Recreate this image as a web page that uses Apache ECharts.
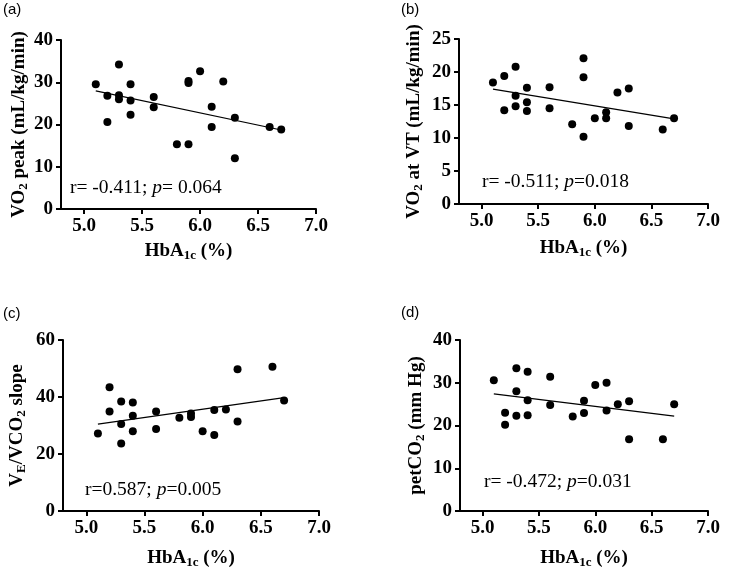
<!DOCTYPE html>
<html>
<head>
<meta charset="utf-8">
<script src="https://cdn.jsdelivr.net/npm/echarts@6/dist/echarts.min.js"></script>
<style>html,body{margin:0;padding:0;background:#fff}#c{width:730px;height:571px}</style>
</head>
<body>
<div id="c"></div>
<script>
// Shared x tick labels (HbA1c %)
const xTicks = [5.0, 5.5, 6.0, 6.5, 7.0];

// Panel (a): VO2 peak
const aX = [5.1,5.2,5.2,5.3,5.3,5.3,5.4,5.4,5.4,5.6,5.6,5.8,5.9,5.9,5.9,6.0,6.1,6.1,6.2,6.3,6.3,6.6,6.7];
const aY = [29.5,26.8,20.6,34.2,26.9,26.0,29.5,25.7,22.3,26.5,24.1,15.3,30.3,29.8,15.3,32.6,24.2,19.4,30.2,21.6,12.0,19.4,18.8];
const aFitX = [5.1, 6.7];
const aFitY = [27.95, 18.7];
const aTicks = [0, 10, 20, 30, 40];

// Panel (b): VO2 at VT
const bX = [5.1,5.2,5.2,5.3,5.3,5.3,5.4,5.4,5.4,5.6,5.6,5.8,5.9,5.9,5.9,6.0,6.1,6.1,6.2,6.3,6.3,6.6,6.7];
const bY = [18.4,19.4,14.2,20.8,16.4,14.8,17.6,15.4,14.1,17.7,14.5,12.1,22.1,19.2,10.2,13.0,13.9,13.0,16.9,17.5,11.8,11.3,13.0];
const bFitX = [5.1, 6.7];
const bFitY = [17.4, 12.9];
const bTicks = [0, 5, 10, 15, 20, 25];

// Panel (c): VE/VCO2 slope
const cX = [5.1,5.2,5.2,5.3,5.3,5.3,5.4,5.4,5.4,5.6,5.6,5.8,5.9,5.9,6.0,6.1,6.1,6.2,6.3,6.3,6.6,6.7];
const cY = [27.2,43.4,34.9,38.4,30.5,23.7,38.1,33.4,28.0,34.9,28.8,32.7,34.2,33.0,28.0,35.4,26.7,35.6,49.7,31.4,50.6,38.8];
const cFitX = [5.1, 6.7];
const cFitY = [30.5, 39.8];
const cTicks = [0, 20, 40, 60];

// Panel (d): petCO2
const dX = [5.1,5.2,5.2,5.3,5.3,5.3,5.4,5.4,5.4,5.6,5.6,5.8,5.9,5.9,6.0,6.1,6.1,6.2,6.3,6.3,6.6,6.7];
const dY = [30.6,23.0,20.2,33.4,28.0,22.3,32.6,25.9,22.4,31.4,24.8,22.1,25.8,22.9,29.5,30.0,23.5,25.0,25.7,16.8,16.8,25.0];
const dFitX = [5.1, 6.7];
const dFitY = [27.4, 22.2];
const dTicks = [0, 10, 20, 30, 40];

const yNames = ['VO{sub|2} peak (mL/kg/min)', 'VO{sub|2} at VT (mL/kg/min)', 'V{sub|E}/VCO{sub|2} slope', 'petCO{sub|2} (mm Hg)'];
const xName = 'HbA{sub|1c} (%)';
const stats = ['r= -0.411; {i|p}= 0.064', 'r= -0.511; {i|p}=0.018', 'r=0.587; {i|p}=0.005', 'r= -0.472; {i|p}=0.031'];
const panelTags = ['(a)', '(b)', '(c)', '(d)'];

const SERIF = 'Liberation Serif';
const grids = [
  {left: 61, top: 40, width: 255, height: 169},
  {left: 459, top: 39, width: 249, height: 165},
  {left: 63, top: 340, width: 256, height: 171},
  {left: 460, top: 340, width: 248, height: 171}
];
const yTickSets = [aTicks, bTicks, cTicks, dTicks];
const yNameGaps = [31, 34, 35, 33];
const xNameGaps = [31, 33, 36, 36];
const scatters = [[aX, aY], [bX, bY], [cX, cY], [dX, dY]];
const fits = [[aFitX, aFitY], [bFitX, bFitY], [cFitX, cFitY], [dFitX, dFitY]];

const nameStyle = {
  fontFamily: SERIF, fontSize: 19, fontWeight: 'bold', color: '#000', lineHeight: 22,
  rich: {sub: {fontFamily: SERIF, fontSize: 13, fontWeight: 'bold', color: '#000', lineHeight: 10, verticalAlign: 'bottom'}}
};
const axisLineStyle = {show: true, lineStyle: {color: '#000', width: 2}};
const tickStyle = {show: true, length: 5, lineStyle: {color: '#000', width: 2}};
const labelStyle = {fontFamily: SERIF, fontSize: 19, fontWeight: 'bold', color: '#000'};

const xAxes = grids.map((g, i) => ({
  type: 'value', gridIndex: i, min: 4.8, max: 7.0,
  axisLine: axisLineStyle,
  axisTick: Object.assign({customValues: xTicks}, tickStyle),
  axisLabel: Object.assign({customValues: xTicks, margin: 8, formatter: v => v.toFixed(1)}, labelStyle),
  splitLine: {show: false},
  name: xName, nameLocation: 'middle', nameGap: xNameGaps[i], nameTextStyle: nameStyle
}));
const yAxes = grids.map((g, i) => {
  const t = yTickSets[i];
  return {
    type: 'value', gridIndex: i, min: t[0], max: t[t.length - 1], interval: t[1] - t[0],
    axisLine: axisLineStyle,
    axisTick: tickStyle,
    axisLabel: Object.assign({margin: 8}, labelStyle),
    splitLine: {show: false},
    name: yNames[i], nameLocation: 'middle', nameGap: yNameGaps[i], nameTextStyle: nameStyle
  };
});

const series = [];
scatters.forEach((s, i) => {
  series.push({
    type: 'scatter', xAxisIndex: i, yAxisIndex: i, symbol: 'circle', symbolSize: 8,
    itemStyle: {color: '#000', opacity: 1}, z: 3,
    data: s[0].map((x, k) => [x, s[1][k]])
  });
  series.push({
    type: 'line', xAxisIndex: i, yAxisIndex: i, symbol: 'none',
    lineStyle: {color: '#000', width: 1.2}, z: 2,
    data: fits[i][0].map((x, k) => [x, fits[i][1][k]])
  });
});

const statPos = [[70, 188], [482, 182], [85, 490], [484, 482]];
const tagPos = [[3, 10], [401, 10], [3, 314], [401, 313]];
const graphic = [];
stats.forEach((t, i) => {
  graphic.push({
    type: 'text', x: statPos[i][0], y: statPos[i][1],
    style: {
      text: t, fontFamily: SERIF, fontSize: 19.5, fill: '#000', verticalAlign: 'middle', align: 'left',
      rich: {i: {fontFamily: SERIF, fontSize: 19.5, fontStyle: 'italic', fill: '#000'}}
    }
  });
});
panelTags.forEach((t, i) => {
  graphic.push({
    type: 'text', x: tagPos[i][0], y: tagPos[i][1],
    style: {text: t, fontFamily: 'Liberation Sans', fontSize: 15, fill: '#000', verticalAlign: 'middle', align: 'left'}
  });
});

const chart = echarts.init(document.getElementById('c'), null, {renderer: 'canvas'});
chart.setOption({
  animation: false,
  backgroundColor: '#fff',
  grid: grids,
  xAxis: xAxes,
  yAxis: yAxes,
  series: series,
  graphic: graphic
});
</script>
</body>
</html>
